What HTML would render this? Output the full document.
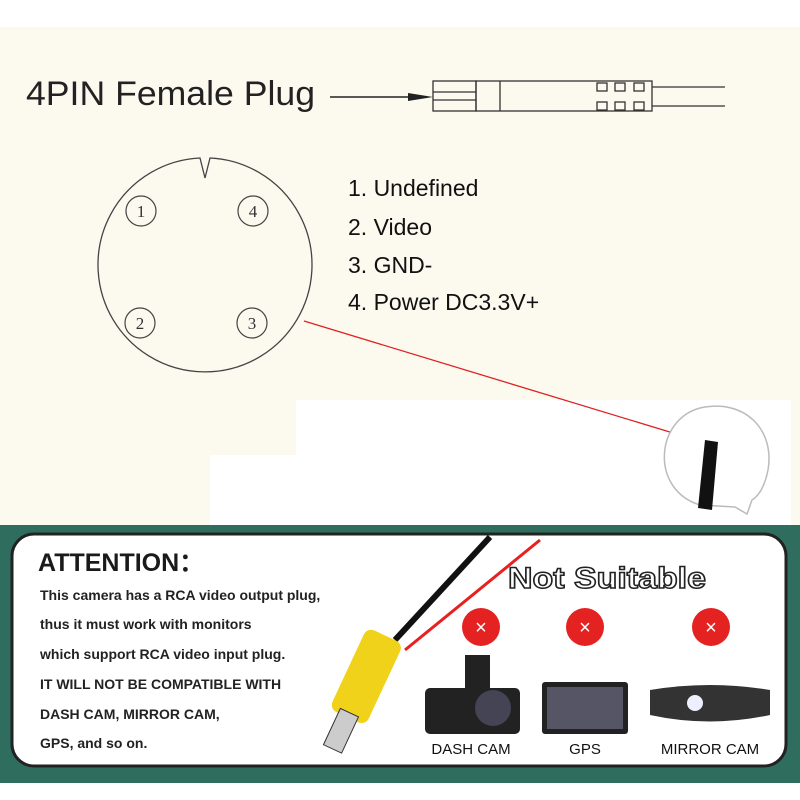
<!DOCTYPE html>
<html><head><meta charset="utf-8"><style>
body{margin:0;width:800px;height:800px;overflow:hidden;background:#fff;font-family:"Liberation Sans",sans-serif}
</style></head><body>
<svg width="800" height="800" xmlns="http://www.w3.org/2000/svg" style="position:absolute;left:0;top:0">
<rect x="0" y="0" width="800" height="800" fill="#fff"/>
<rect x="0" y="27" width="800" height="498" fill="#fcf9ef"/>
<rect x="296" y="400" width="495" height="125" fill="#fff"/>
<rect x="210" y="455" width="90" height="70" fill="#fff"/>
<text x="26" y="105" font-size="34" fill="#222" textLength="289" lengthAdjust="spacingAndGlyphs">4PIN Female Plug</text>
<line x1="330" y1="97" x2="425" y2="97" stroke="#222" stroke-width="1.5"/>
<polygon points="408,93 433,97 408,101" fill="#222"/>
<g fill="none" stroke="#333" stroke-width="1.3">
<rect x="433" y="81" width="43" height="30"/>
<line x1="433" y1="92" x2="476" y2="92"/><line x1="433" y1="100" x2="476" y2="100"/>
<rect x="476" y="81" width="176" height="30"/>
<line x1="500" y1="81" x2="500" y2="111"/>
<rect x="597" y="83" width="10" height="8"/><rect x="615" y="83" width="10" height="8"/><rect x="634" y="83" width="10" height="8"/>
<rect x="597" y="102" width="10" height="8"/><rect x="615" y="102" width="10" height="8"/><rect x="634" y="102" width="10" height="8"/>
<line x1="652" y1="87" x2="725" y2="87"/><line x1="652" y1="106" x2="725" y2="106"/>
</g>
<path d="M200,158 A107,107 0 1 0 210,158 L205,178 Z" fill="none" stroke="#444" stroke-width="1.3"/>
<g fill="none" stroke="#444" stroke-width="1.2"><circle cx="141" cy="211" r="15"/><circle cx="253" cy="211" r="15"/><circle cx="140" cy="323" r="15"/><circle cx="252" cy="323" r="15"/></g>
<g font-family="Liberation Serif,serif" font-size="17" fill="#333" text-anchor="middle"><text x="141" y="217">1</text><text x="253" y="217">4</text><text x="140" y="329">2</text><text x="252" y="329">3</text></g>
<g font-size="23" fill="#111"><text x="348" y="196">1. Undefined</text><text x="348" y="235">2. Video</text><text x="348" y="273">3. GND-</text><text x="348" y="310">4. Power DC3.3V+</text></g>
<line x1="304" y1="321" x2="706" y2="443" stroke="#e02020" stroke-width="1.3"/>
<path d="M700,505 C650,490 655,420 700,408 C745,398 775,430 768,470 C765,485 760,495 752,500 L747,514 L735,507 Z" fill="#fff" stroke="#bbb" stroke-width="1.5"/>
<path d="M705,440 L718,442 L712,510 L698,508 Z" fill="#111"/>
<rect x="0" y="525" width="800" height="258" fill="#2f6e5f"/>
<rect x="12" y="534" width="774" height="232" rx="22" fill="#fff" stroke="#222" stroke-width="3"/>
<line x1="490" y1="537" x2="395" y2="640" stroke="#111" stroke-width="6"/>
<line x1="540" y1="540" x2="405" y2="650" stroke="#e82020" stroke-width="3"/>
<g transform="rotate(25 360 690)"><rect x="340" y="630" width="40" height="90" rx="8" fill="#f0d21a"/><rect x="350" y="715" width="20" height="40" fill="#ccc" stroke="#333"/></g>
<text x="38" y="571" font-size="25" font-weight="bold" fill="#1a1a1a">ATTENTION：</text>
<g font-size="14" font-weight="bold" fill="#222"><text x="40" y="600">This camera has a RCA video output plug,</text><text x="40" y="629">thus it must work with monitors</text><text x="40" y="659">which support RCA video input plug.</text><text x="40" y="689">IT WILL NOT BE COMPATIBLE WITH</text><text x="40" y="719">DASH CAM, MIRROR CAM,</text><text x="40" y="748">GPS, and so on.</text></g>
<text x="508" y="588" font-size="30" font-weight="bold" fill="#fff" stroke="#222" stroke-width="1.5" textLength="198" lengthAdjust="spacingAndGlyphs">Not Suitable</text>
<g fill="#e52222"><circle cx="481" cy="627" r="19"/><circle cx="585" cy="627" r="19"/><circle cx="711" cy="627" r="19"/></g>
<g font-size="20" fill="#fff" text-anchor="middle"><text x="481" y="634">×</text><text x="585" y="634">×</text><text x="711" y="634">×</text></g>
<rect x="425" y="688" width="95" height="46" rx="5" fill="#222"/><circle cx="493" cy="708" r="18" fill="#445"/><rect x="465" y="655" width="25" height="35" fill="#222"/>
<rect x="542" y="682" width="86" height="52" rx="3" fill="#222"/><rect x="547" y="687" width="76" height="42" fill="#556"/>
<path d="M650,690 Q710,680 770,690 L770,715 Q710,728 650,715 Z" fill="#333"/><circle cx="695" cy="703" r="8" fill="#eef"/>
<g font-size="15" fill="#111" text-anchor="middle"><text x="471" y="754">DASH CAM</text><text x="585" y="754">GPS</text><text x="710" y="754">MIRROR CAM</text></g>
</svg>
</body></html>
